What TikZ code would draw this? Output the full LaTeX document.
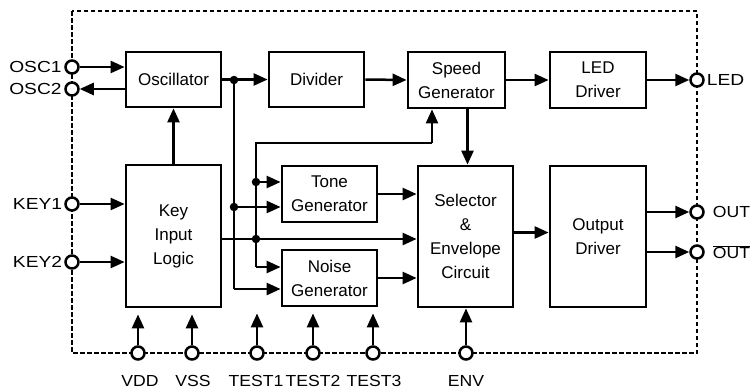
\documentclass[tikz,border=0pt]{standalone}
\usepackage{fontspec}
\setmainfont{Liberation Sans}
\newfontfamily\widefont[FakeStretch=1.2]{Liberation Sans}
\newfontfamily\botfont[FakeStretch=1.1]{Liberation Sans}
\usetikzlibrary{arrows.meta}
\begin{document}
\begin{tikzpicture}[x=1pt,y=-1pt,
  every node/.style={font=\fontsize{17}{24}\selectfont},
  blk/.style={draw, line width=2.8pt, inner sep=0pt, align=center, minimum width=95pt},
  wire/.style={line width=2.5pt},
  arr/.style={wire, -{Triangle[length=14pt,width=12pt]}},
  port/.style={circle, draw, fill=white, line width=2.5pt, minimum size=13pt, inner sep=0pt},
  dot/.style={circle, fill=black, minimum size=8.5pt, inner sep=0pt},
  lbl/.style={inner sep=1.5pt, font=\widefont\fontsize{16}{20}\selectfont},
  rlbl/.style={anchor=west, inner sep=0pt, font=\botfont\fontsize{16}{20}\selectfont},
  blbl/.style={anchor=base, inner sep=0pt, font=\botfont\fontsize{16}{20}\selectfont}
]
\useasboundingbox (0,0) rectangle (753,389);
% dashed boundary
\draw[line width=2pt, dash pattern=on 4.5pt off 2.5pt] (72,11) rectangle (697,353);

% blocks
\node[blk, minimum height=55pt] (osc) at (173.5,79.5) {Oscillator};
\node[blk, minimum height=55pt] (div) at (316.5,79.5) {Divider};
\node[blk, minimum height=56pt, minimum width=97pt] (speed) at (456.5,80) {Speed\\Generator};
\node[blk, minimum height=56pt, minimum width=96pt] (led) at (598,80) {LED\\Driver};
\node[blk, minimum height=142pt] (key) at (173.5,236) {Key\\Input\\Logic};
\node[blk, minimum height=56pt] (tone) at (329.5,194) {Tone\\Generator};
\node[blk, minimum height=56pt] (noise) at (329.5,278) {Noise\\Generator};
\node[blk, minimum height=141pt] (sel) at (465.5,236.5) {Selector\\\&\\Envelope\\Circuit};
\node[blk, minimum height=141pt, minimum width=96pt] (outd) at (598,236.5) {Output\\Driver};

% junction coordinates
\coordinate (t1) at (256,143);
\coordinate (t2) at (432,143);
\coordinate (b2) at (256,267);
\coordinate (b1) at (234,289);
\coordinate (ko) at (256,239);

% connectors
\draw[arr] (key.north) -- (osc.south);
\draw[arr] (osc.east) -- (div.west);
\draw[arr] (div.east) -- (speed.west);
\draw[arr] (speed.east) -- (led.west);
\draw[arr] ([xshift=2pt]sel.north |- speed.south) -- ([xshift=2pt]sel.north);
\draw[arr] (tone.east) -- (tone.east -| sel.west);
\draw[arr] (noise.east) -- (noise.east -| sel.west);
\draw[arr] ([yshift=4pt]sel.east) -- ([yshift=4pt]sel.east -| outd.west);
\draw[arr] (ko -| key.east) -- (ko -| sel.west);
\draw[wire] (t2) -- (t1) -- (b2);
\draw[arr] (t2) -- (t2 |- speed.south);
\draw[arr] (b2) -- (b2 -| noise.west);
\draw[wire] (234,80) -- (b1);
\draw[arr] (b1) -- (b1 -| noise.west);
\draw[arr] (256,182) -- (tone.west |- 0,182);
\draw[arr] (234,207) -- (tone.west |- 0,207);

\node[dot] (j1) at (234,80) {};
\node[dot] (j2) at (234,207) {};
\node[dot] (j3) at (256,239) {};
\node[dot] (j4) at (256,182) {};

% ports
\node[port] (osc1) at (72,67) {};
\node[port] (osc2) at (72,89) {};
\node[port] (key1) at (72,204) {};
\node[port] (key2) at (72,262) {};
\node[port] (ledp) at (697,80) {};
\node[port] (outp) at (697,212) {};
\node[port] (outbp) at (697,252) {};
\node[port] (vdd) at (138,353) {};
\node[port] (vss) at (192,353) {};
\node[port] (tst1) at (257,353) {};
\node[port] (tst2) at (313,353) {};
\node[port] (tst3) at (373,353) {};
\node[port] (env) at (466,353) {};

\draw[arr] (osc1) -- (osc1 -| osc.west);
\draw[arr] (osc.west |- osc2) -- (osc2);
\draw[arr] (key1) -- (key1 -| key.west);
\draw[arr] (key2) -- (key2 -| key.west);
\draw[arr] (led.east |- ledp) -- (ledp);
\draw[arr] (outd.east |- outp) -- (outp);
\draw[arr] (outd.east |- outbp) -- (outbp);
\draw[arr] (vdd) -- ([yshift=-6pt]vdd |- key.south);
\draw[arr] (vss) -- ([yshift=-6pt]vss |- key.south);
\draw[arr] (tst1) -- ([yshift=-6pt]tst1 |- noise.south);
\draw[arr] (tst2) -- ([yshift=-6pt]tst2 |- noise.south);
\draw[arr] (tst3) -- ([yshift=-6pt]tst3 |- noise.south);
\draw[arr] (env) -- (env |- sel.south);

% labels
\node[lbl, anchor=east, inner xsep=2.5pt] (losc1) at (osc1.west) {OSC1};
\node[lbl, anchor=east, inner xsep=2.5pt] (losc2) at (osc2.west) {OSC2};
\node[lbl, anchor=east, inner xsep=2pt] (lkey1) at (key1.west) {KEY1};
\node[lbl, anchor=east, inner xsep=2pt] (lkey2) at (key2.west) {KEY2};
\node[lbl, anchor=west, inner xsep=2pt] (lled) at (ledp.east) {LED};
\node[rlbl] (lout) at ([xshift=8pt]outp.east) {OUT};
\node[rlbl] (loutb) at ([xshift=8pt]outbp.east) {$\overline{\mbox{OUT}}$};
\node[blbl] (lvdd) at (140,386) {VDD};
\node[blbl] (lvss) at (193,386) {VSS};
\node[blbl] (lt1) at (256,386) {TEST1};
\node[blbl] (lt2) at (313,386) {TEST2};
\node[blbl] (lt3) at (374,386) {TEST3};
\node[blbl] (lenv) at (466,386) {ENV};
\end{tikzpicture}
\end{document}
